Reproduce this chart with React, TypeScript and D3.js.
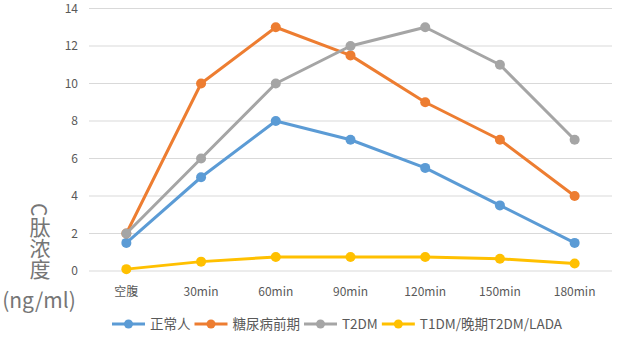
import React, { useRef, useEffect } from "react";
import * as d3 from "d3";

const categories = ["空腹", "30min", "60min", "90min", "120min", "150min", "180min"];
const seriesNames = ["正常人", "糖尿病前期", "T2DM", "T1DM/晚期T2DM/LADA"];
const normal = [1.5, 5, 8, 7, 5.5, 3.5, 1.5];
const prediabetes = [2, 10, 13, 11.5, 9, 7, 4];
const t2dm = [2, 6, 10, 12, 13, 11, 7];
const t1dm = [0.1, 0.5, 0.75, 0.75, 0.75, 0.65, 0.4];
const yTicks = [0, 2, 4, 6, 8, 10, 12, 14];
const colors = ["#5B9BD5", "#ED7D31", "#A5A5A5", "#FFC000"];

const font = "'Microsoft YaHei', 'Noto Sans CJK SC', sans-serif";

const App = () => {
  const ref = useRef<SVGSVGElement>(null);

  useEffect(() => {
    const svg = d3.select(ref.current);
    svg.selectAll("*").remove();

    const x = d3.scaleBand().domain(categories).range([89, 612]);
    const y = d3.scaleLinear().domain([0, 14]).range([271, 8.5]);
    const allSeries = [normal, prediabetes, t2dm, t1dm];

    // grid
    svg.append("g")
      .selectAll("line")
      .data(yTicks)
      .join("line")
      .attr("x1", 89)
      .attr("x2", 612)
      .attr("y1", d => y(d))
      .attr("y2", d => y(d))
      .attr("stroke", "#D9D9D9")
      .attr("stroke-width", 1);

    svg.append("g")
      .selectAll("text")
      .data(yTicks)
      .join("text")
      .attr("x", 78)
      .attr("y", d => y(d) + 4)
      .attr("text-anchor", "end")
      .attr("font-size", 12)
      .attr("fill", "#595959")
      .text(d => d);

    svg.append("g")
      .selectAll("text")
      .data(categories)
      .join("text")
      .attr("x", d => x(d)! + x.bandwidth() / 2)
      .attr("y", 296)
      .attr("text-anchor", "middle")
      .attr("font-size", 12)
      .attr("fill", "#595959")
      .text(d => d);

    const line = d3.line<number>()
      .x((d, i) => x(categories[i])! + x.bandwidth() / 2)
      .y(d => y(d));

    allSeries.forEach((vals, si) => {
      const g = svg.append("g");
      g.append("path")
        .attr("d", line(vals))
        .attr("fill", "none")
        .attr("stroke", colors[si])
        .attr("stroke-width", 3)
        .attr("stroke-linejoin", "round");
      g.selectAll("circle")
        .data(vals)
        .join("circle")
        .attr("cx", (d, i) => x(categories[i])! + x.bandwidth() / 2)
        .attr("cy", d => y(d))
        .attr("r", 5)
        .attr("fill", colors[si]);
    });

    // y-axis title, vertical text then unit
    const title = svg.append("g").attr("fill", "#767676").attr("font-size", 21);
    title.append("text")
      .attr("x", 40)
      .attr("y", 203)
      .attr("writing-mode", "vertical-rl")
      .text("C肽浓度");
    title.append("text")
      .attr("x", 39)
      .attr("y", 308)
      .attr("text-anchor", "middle")
      .text("(ng/ml)");

    // legend
    const legend = svg.append("g");
    let lx = 112;
    seriesNames.forEach((name, i) => {
      legend.append("line")
        .attr("x1", lx)
        .attr("x2", lx + 33)
        .attr("y1", 324)
        .attr("y2", 324)
        .attr("stroke", colors[i])
        .attr("stroke-width", 3);
      legend.append("circle")
        .attr("cx", lx + 16.5)
        .attr("cy", 324)
        .attr("r", 4.5)
        .attr("fill", colors[i]);
      const t = legend.append("text")
        .attr("x", lx + 38)
        .attr("y", 329)
        .attr("font-size", 13.5)
        .attr("fill", "#595959")
        .text(name);
      const w = (t.node() as SVGTextElement).getComputedTextLength();
      lx = lx + 38 + w + 4;
    });
  }, []);

  return (
    <svg ref={ref} width={636} height={348} style={{ position: "absolute", left: 0, top: 0, fontFamily: font, background: "#fff" }} />
  );
};

export default App;
